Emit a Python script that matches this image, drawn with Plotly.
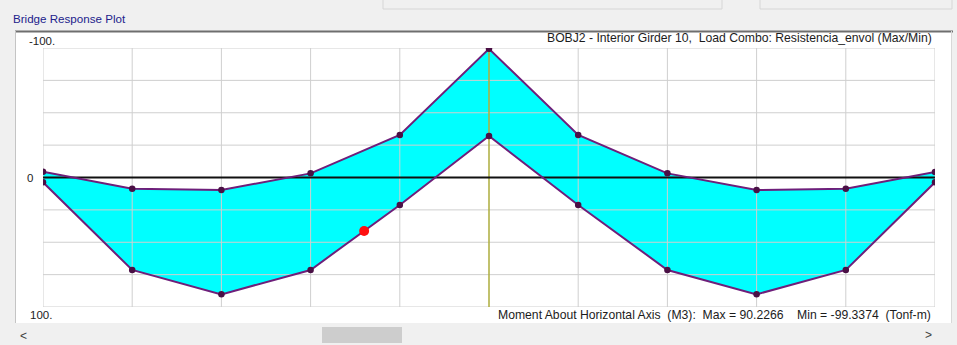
import plotly.graph_objects as go

# Girder stations (grid divisions along the span) and envelope moments (Tonf-m)
stations = [0, 1, 2, 3, 4, 5, 6, 7, 8, 9, 10]
moment_max = [3.7, 71.4, 90.2266, 71.4, 21.2, -32.0, 21.2, 71.4, 90.2266, 71.4, 3.7]
moment_min = [-4.5, 8.6, 9.7, -3.2, -32.8, -99.3374, -32.8, -3.2, 9.7, 8.6, -4.3]

# Cursor marker on the max curve
cursor_station = [3.6]
cursor_value = [41.3]

# Axis range / grid spacing and corner labels
y_ticks = [-100, -75, -50, -25, 0, 25, 50, 75, 100]
y_labels = ["-100.", "0", "100."]

title_text = "BOBJ2 - Interior Girder 10,  Load Combo: Resistencia_envol (Max/Min)"
footer_text = ("Moment About Horizontal Axis  (M3):  Max = 90.2266    "
               "Min = -99.3374  (Tonf-m)")

W, H = 957, 345


def px(x):
    return x / W


def py(y):
    return (H - y) / H


FONT = "Liberation Sans, Arial, sans-serif"

fig = go.Figure()

# Envelope band between min and max curves
fig.add_trace(go.Scatter(
    x=stations + stations[::-1],
    y=moment_max + moment_min[::-1],
    fill="toself", fillcolor="#00ffff",
    line=dict(width=0), mode="lines", hoverinfo="skip", showlegend=False,
))

# Grid lines drawn over the band
gx, gy = [], []
for s in stations:
    gx += [s, s, None]
    gy += [y_ticks[0], y_ticks[-1], None]
for t in y_ticks:
    gx += [stations[0], stations[-1], None]
    gy += [t, t, None]
fig.add_trace(go.Scatter(x=gx, y=gy, mode="lines",
                         line=dict(color="#cfcfcf", width=1),
                         hoverinfo="skip", showlegend=False))

# Mid-span marker line
mid = stations[len(stations) // 2]
fig.add_trace(go.Scatter(x=[mid, mid], y=[y_ticks[0], y_ticks[-1]], mode="lines",
                         line=dict(color="#a0a000", width=1.5), opacity=0.7,
                         hoverinfo="skip", showlegend=False))

# Zero reference line
fig.add_trace(go.Scatter(x=[stations[0], stations[-1]], y=[0, 0], mode="lines",
                         line=dict(color="#111111", width=2.2),
                         hoverinfo="skip", showlegend=False))

# Max / Min curves with station markers
for vals in (moment_max, moment_min):
    fig.add_trace(go.Scatter(
        x=stations, y=vals, mode="lines+markers",
        line=dict(color="#6e1f7a", width=2),
        marker=dict(color="#4a1045", size=6.5),
        hoverinfo="skip", showlegend=False,
    ))

# Cursor point
fig.add_trace(go.Scatter(x=cursor_station, y=cursor_value, mode="markers",
                         marker=dict(color="#ff1010", size=10),
                         hoverinfo="skip", showlegend=False))

x0, x1 = 43, 935
y_top, y_bot = 48, 307

shapes = [
    # white plot panel
    dict(type="rect", xref="paper", yref="paper", x0=px(15), x1=px(951),
         y0=py(323), y1=py(31), fillcolor="white",
         line=dict(width=0), layer="below"),
    # panel borders
    dict(type="line", xref="paper", yref="paper", x0=px(15), x1=px(953),
         y0=py(31.5), y1=py(31.5), line=dict(color="#6e6e6e", width=2)),
    dict(type="line", xref="paper", yref="paper", x0=px(15.5), x1=px(15.5),
         y0=py(31), y1=py(323), line=dict(color="#c4c4c4", width=1)),
    dict(type="line", xref="paper", yref="paper", x0=px(951.5), x1=px(951.5),
         y0=py(31), y1=py(323), line=dict(color="#d8d8d8", width=1)),
    # scrollbar thumb
    dict(type="rect", xref="paper", yref="paper", x0=px(322), x1=px(402),
         y0=py(343), y1=py(327), fillcolor="#cdcdcd", line=dict(width=0)),
    # top toolbar boxes
    dict(type="rect", xref="paper", yref="paper", x0=px(383), x1=px(722),
         y0=py(9), y1=py(-2), fillcolor="rgba(0,0,0,0)",
         line=dict(color="#d6d6d6", width=1)),
    dict(type="rect", xref="paper", yref="paper", x0=px(760), x1=px(952),
         y0=py(9), y1=py(-2), fillcolor="rgba(0,0,0,0)",
         line=dict(color="#d6d6d6", width=1)),
]

annotations = [
    dict(text="Bridge Response Plot", x=px(11), y=py(19), xref="paper", yref="paper",
         xanchor="left", yanchor="middle", showarrow=False,
         font=dict(family=FONT, size=11.6, color="#22228c")),
    dict(text=title_text, x=px(934), y=py(38), xref="paper", yref="paper",
         xanchor="right", yanchor="middle", showarrow=False,
         font=dict(family=FONT, size=12.2, color="#1c1c1c")),
    dict(text=footer_text, x=px(933), y=py(315), xref="paper", yref="paper",
         xanchor="right", yanchor="middle", showarrow=False,
         font=dict(family=FONT, size=12.2, color="#1c1c1c")),
    dict(text=y_labels[0], x=px(27), y=py(41), xref="paper", yref="paper",
         xanchor="left", yanchor="middle", showarrow=False,
         font=dict(family=FONT, size=11.5, color="#1c1c1c")),
    dict(text=y_labels[1], x=px(35), y=0, xref="paper", yref="y",
         xanchor="right", yanchor="middle", showarrow=False,
         font=dict(family=FONT, size=11.5, color="#1c1c1c")),
    dict(text=y_labels[2], x=px(28), y=py(315), xref="paper", yref="paper",
         xanchor="left", yanchor="middle", showarrow=False,
         font=dict(family=FONT, size=11.5, color="#1c1c1c")),
    dict(text="<", x=px(23), y=py(336), xref="paper", yref="paper",
         xanchor="center", yanchor="middle", showarrow=False,
         font=dict(family=FONT, size=12, color="#404040")),
    dict(text=">", x=px(928), y=py(335), xref="paper", yref="paper",
         xanchor="center", yanchor="middle", showarrow=False,
         font=dict(family=FONT, size=12, color="#404040")),
]

fig.update_layout(
    width=W, height=H, autosize=False,
    margin=dict(l=0, r=0, t=0, b=0, pad=0),
    paper_bgcolor="#f0f0f0", plot_bgcolor="white",
    showlegend=False,
    xaxis=dict(domain=[px(x0), px(x1)], range=[stations[0], stations[-1]],
               showgrid=False, zeroline=False, showticklabels=False,
               ticks="", showline=False, fixedrange=True),
    yaxis=dict(domain=[py(y_bot), py(y_top)], range=[y_ticks[-1], y_ticks[0]],
               showgrid=False, zeroline=False, showticklabels=False,
               ticks="", showline=False, fixedrange=True),
    shapes=shapes, annotations=annotations,
)

fig.write_html("out.html", config=dict(displayModeBar=False))
